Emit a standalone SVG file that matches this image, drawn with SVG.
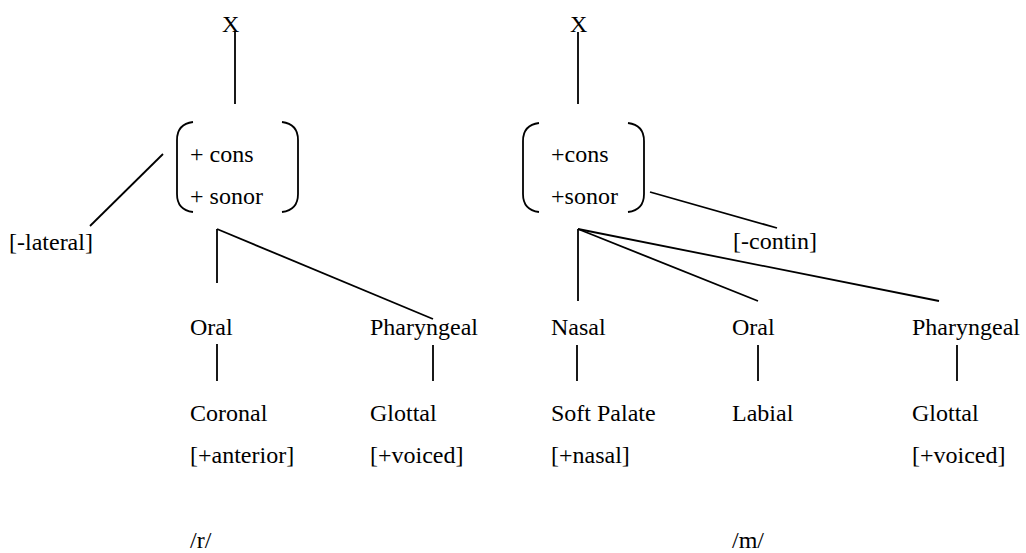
<svg xmlns="http://www.w3.org/2000/svg" width="1026" height="553" viewBox="0 0 1026 553">
<style>
text { font-family: "Liberation Serif", "Times New Roman", serif; font-size: 24px; fill: #000; }
.ln { stroke: #000; stroke-width: 1.8; fill: none; }
</style>
<rect width="1026" height="553" fill="#fff"/>
<g id="connectors">
  <line class="ln" x1="235" y1="32" x2="235" y2="104"/>
  <line class="ln" x1="163" y1="154" x2="90" y2="226"/>
  <line class="ln" x1="217" y1="229" x2="217" y2="283"/>
  <line class="ln" x1="217" y1="229" x2="433" y2="319"/>
  <line class="ln" x1="217" y1="344" x2="217" y2="381"/>
  <line class="ln" x1="433" y1="345" x2="433" y2="381"/>
  <line class="ln" x1="578" y1="32" x2="578" y2="104"/>
  <line class="ln" x1="650" y1="192" x2="777" y2="228"/>
  <line class="ln" x1="578" y1="229" x2="578" y2="301"/>
  <line class="ln" x1="578" y1="229" x2="758" y2="301"/>
  <line class="ln" x1="578" y1="229" x2="939" y2="301"/>
  <line class="ln" x1="577" y1="345" x2="577" y2="381"/>
  <line class="ln" x1="758" y1="345" x2="758" y2="381"/>
  <line class="ln" x1="957" y1="345" x2="957" y2="381"/>
</g>
<g id="x-left"><text x="222" y="32">X</text></g>
<g id="matrix-left">
  <path class="ln" d="M193,122 Q177,124 177,140 L177,194 Q177,210 193,212"/>
  <path class="ln" d="M282,122 Q298,124 298,140 L298,194 Q298,210 282,212"/>
  <text x="190" y="162">+ cons</text>
  <text x="190" y="204">+ sonor</text>
</g>
<g id="lateral"><text x="9" y="250">[-lateral]</text></g>
<g id="oral-left"><text x="190" y="335">Oral</text></g>
<g id="pharyngeal-left"><text x="370" y="335">Pharyngeal</text></g>
<g id="coronal"><text x="190" y="421">Coronal</text><text x="190" y="463">[+anterior]</text></g>
<g id="glottal-left"><text x="370" y="421">Glottal</text><text x="370" y="463">[+voiced]</text></g>
<g id="r"><text x="190" y="548">/r/</text></g>
<g id="x-right"><text x="570" y="32">X</text></g>
<g id="matrix-right">
  <path class="ln" d="M539,123 Q523,125 523,141 L523,194 Q523,210 539,212"/>
  <path class="ln" d="M628,123 Q644,125 644,141 L644,194 Q644,210 628,212"/>
  <text x="551" y="162">+cons</text>
  <text x="551" y="204">+sonor</text>
</g>
<g id="contin"><text x="733" y="249">[-contin]</text></g>
<g id="nasal"><text x="551" y="335">Nasal</text></g>
<g id="oral-right"><text x="732" y="335">Oral</text></g>
<g id="pharyngeal-right"><text x="912" y="335">Pharyngeal</text></g>
<g id="soft-palate"><text x="551" y="421">Soft Palate</text><text x="551" y="463">[+nasal]</text></g>
<g id="labial"><text x="732" y="421">Labial</text></g>
<g id="glottal-right"><text x="912" y="421">Glottal</text><text x="912" y="463">[+voiced]</text></g>
<g id="m"><text x="732" y="548">/m/</text></g>
</svg>
